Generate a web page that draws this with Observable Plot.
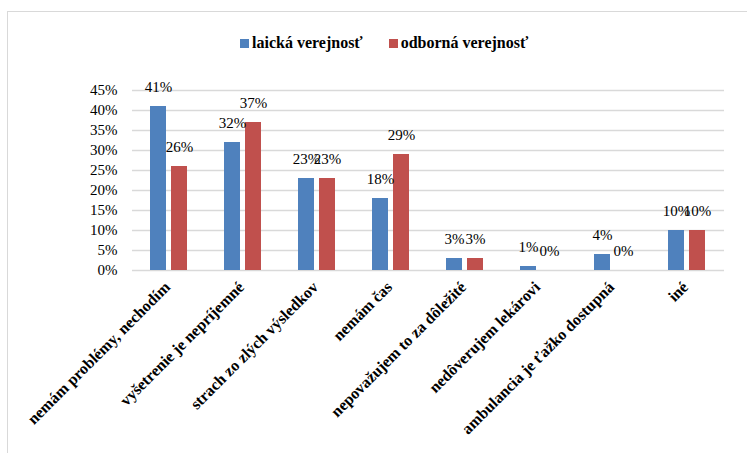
<!DOCTYPE html>
<html>
<head>
<meta charset="utf-8">
<script src="https://cdn.jsdelivr.net/npm/d3@7"></script>
<script src="https://cdn.jsdelivr.net/npm/@observablehq/plot@0.6"></script>
<style>
  html, body { margin: 0; padding: 0; background: #fff; }
  #wrap { position: relative; width: 747px; height: 453px; overflow: hidden; font-family: "Liberation Serif", "Times New Roman", serif; }
  #frame { position: absolute; left: 7px; top: 11px; width: 800px; height: 500px; border: 1px solid #d9d9d9; box-sizing: border-box; }
  #legend { position: absolute; top: 34px; left: 240px; display: flex; gap: 26px; font-weight: bold; font-size: 16px; color: #000; white-space: nowrap; }
  #legend .item { display: flex; align-items: center; }
  #legend .sw { width: 9px; height: 9px; margin-right: 3px; display: inline-block; }
  #chart { position: absolute; left: 0; top: 0; }
</style>
</head>
<body>
<div id="wrap">
  <div id="frame"></div>
  <div id="chart"></div>
  <div id="legend"></div>
</div>
<script>
const categories = [
  "nemám problémy, nechodím",
  "vyšetrenie je nepríjemné",
  "strach zo zlých výsledkov",
  "nemám čas",
  "nepovažujem to za dôležité",
  "nedôverujem lekárovi",
  "ambulancia je ťažko dostupná",
  "iné"
];
const seriesNames = ["laická verejnosť", "odborná verejnosť"];
const laicka = [41, 32, 23, 18, 3, 1, 4, 10];
const odborna = [26, 37, 23, 29, 3, 0, 0, 10];
const seriesColors = ["#4f81bd", "#c0504d"];
const yTicks = [0, 5, 10, 15, 20, 25, 30, 35, 40, 45];

const data = [];
categories.forEach((c, i) => {
  data.push({cat: c, series: seriesNames[0], value: laicka[i]});
  data.push({cat: c, series: seriesNames[1], value: odborna[i]});
});

const font = "Liberation Serif, Times New Roman, serif";

const chart = Plot.plot({
  width: 747,
  height: 453,
  marginLeft: 130,
  marginRight: 22,
  marginTop: 90,
  marginBottom: 183,
  style: {fontFamily: font, background: "transparent"},
  fx: {domain: categories, padding: 0},
  x: {domain: seriesNames, paddingInner: 0.227, paddingOuter: 0.8, axis: null},
  y: {domain: [0, 45]},
  color: {domain: seriesNames, range: seriesColors},
  marks: [
    Plot.gridY(yTicks, {stroke: "#d9d9d9", strokeOpacity: 1, strokeWidth: 1.5}),
    Plot.axisY(yTicks, {tickSize: 0, tickPadding: 15, tickFormat: d => d + "%", fontSize: 15, label: null, fill: "#000"}),
    Plot.axisFx({anchor: "bottom", tickSize: 0, tickRotate: -45, tickPadding: 14, dx: -2, fontWeight: "bold", fontSize: 16, label: null, fill: "#000"}),
    Plot.barY(data, {fx: "cat", x: "series", y: "value", fill: "series"}),
    Plot.text(data, {fx: "cat", x: "series", y: "value", text: d => d.value + "%", dy: -19, fontSize: 15, fill: "#000"})
  ]
});
document.getElementById("chart").appendChild(chart);

const legend = document.getElementById("legend");
seriesNames.forEach((s, i) => {
  const item = document.createElement("div");
  item.className = "item";
  const sw = document.createElement("span");
  sw.className = "sw";
  sw.style.background = seriesColors[i];
  item.appendChild(sw);
  item.appendChild(document.createTextNode(s));
  legend.appendChild(item);
});
</script>
</body>
</html>
